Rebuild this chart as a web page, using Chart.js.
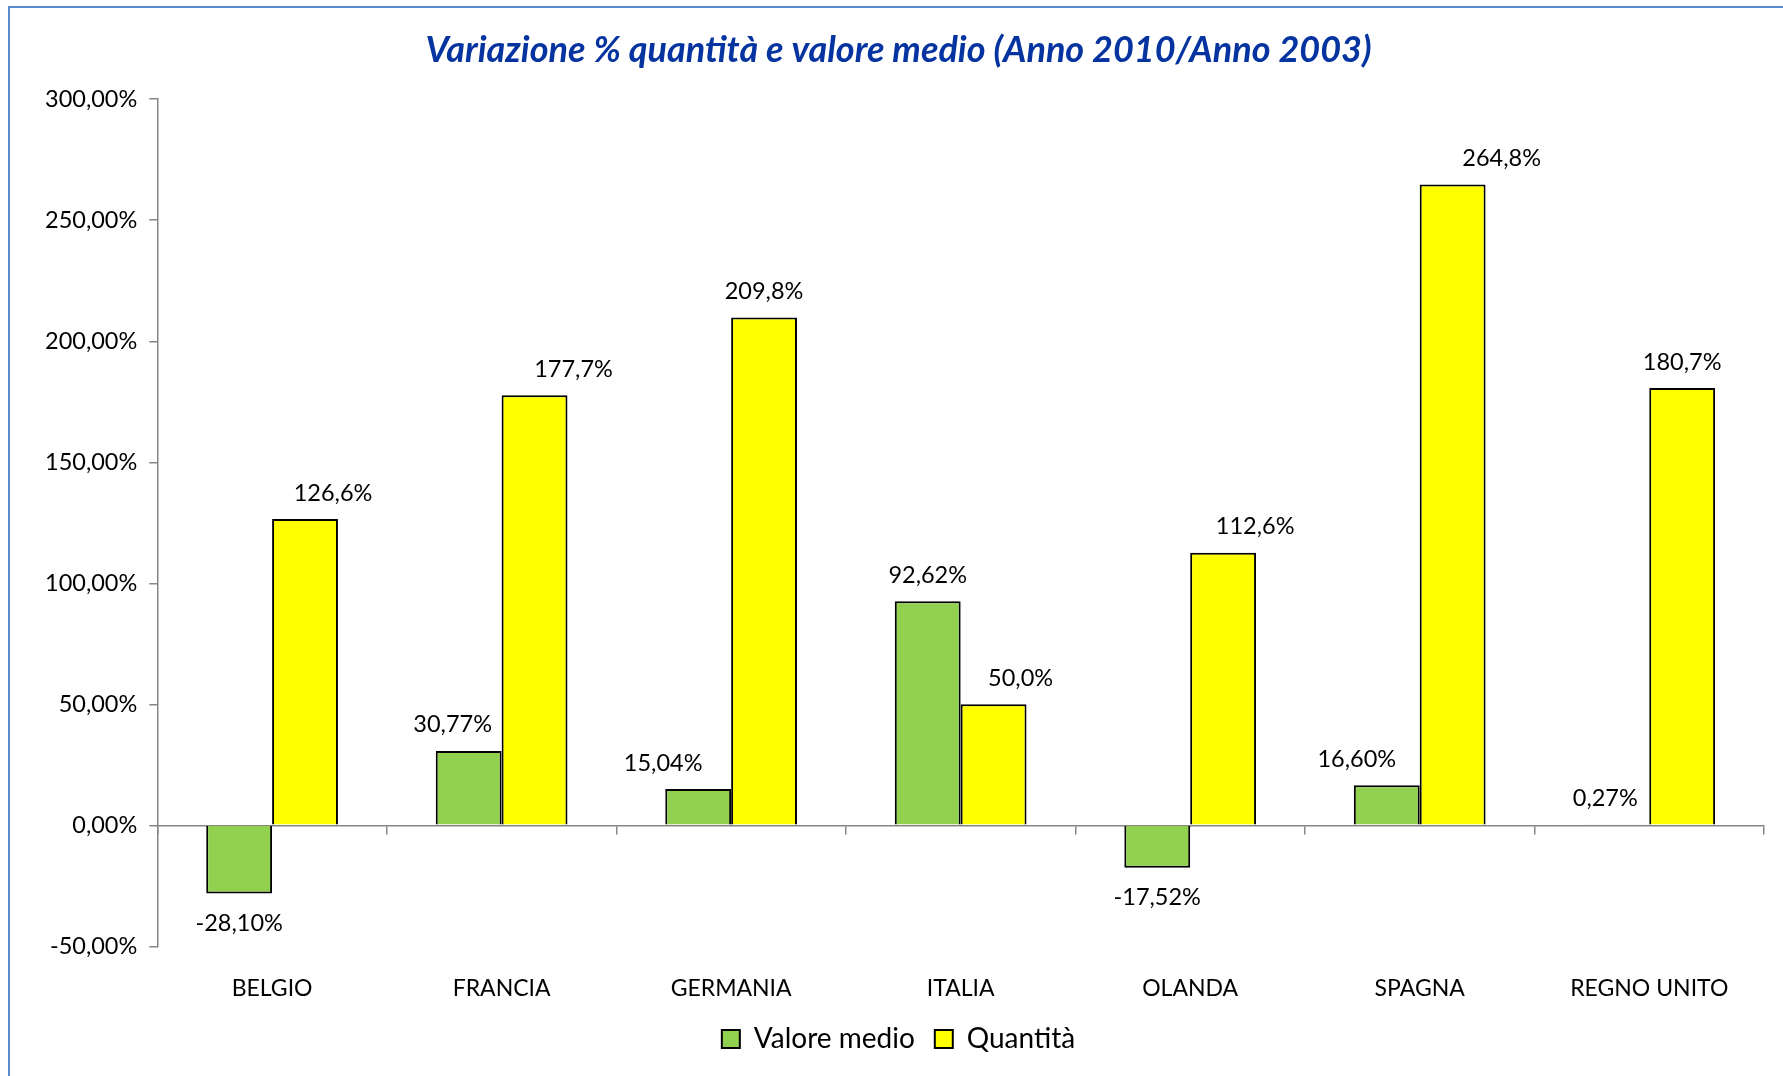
<!DOCTYPE html>
<html>
<head>
<meta charset="utf-8">
<script src="https://cdn.jsdelivr.net/npm/chart.js@4.4.1/dist/chart.umd.min.js"></script>
<style>
    html, body { margin: 0; padding: 0; background: #fff; overflow: hidden; }
    #wrap { position: relative; width: 1783px; height: 1076px; }
    #frame {
        position: absolute; left: 8px; top: 6px; width: 1900px; height: 1200px;
        border-left: 2px solid #5b8cc9; border-top: 2px solid #5b8cc9;
        pointer-events: none;
    }
</style>
</head>
<body>
<div id="wrap">
    <canvas id="chart"></canvas>
    <div id="frame"></div>
</div>
<script>
const categories = ["BELGIO", "FRANCIA", "GERMANIA", "ITALIA", "OLANDA", "SPAGNA", "REGNO UNITO"];
const valoreMedio = [-28.10, 30.77, 15.04, 92.62, -17.52, 16.60, 0.27];
const quantita = [126.6, 177.7, 209.8, 50.0, 112.6, 264.8, 180.7];
const yTicks = [-50, 0, 50, 100, 150, 200, 250, 300];

// label nudges (px), the labels were moved by hand in the original
const nudgeGreen = [0, -16, -35, 0, 0, -30, -11];
const nudgeYellow = [28, 39, 0, 27, 32, 49, 0];

const FONT = "Lato, 'Noto Sans', sans-serif";

function itNum(v, dec) {
    return v.toFixed(dec).replace(".", ",") + "%";
}

const valueLabels = {
    id: "valueLabels",
    afterDatasetsDraw(chart) {
        const ctx = chart.ctx;
        ctx.save();
        ctx.font = "23.5px " + FONT;
        ctx.fillStyle = "#000";
        ctx.textAlign = "center";
        ctx.textBaseline = "middle";
        chart.data.datasets.forEach((ds, di) => {
            const meta = chart.getDatasetMeta(di);
            const nudge = di === 0 ? nudgeGreen : nudgeYellow;
            const dec = di === 0 ? 2 : 1;
            meta.data.forEach((bar, i) => {
                const v = ds.data[i];
                const y = v >= 0 ? bar.y - 26 : bar.y + 30;
                ctx.fillText(itNum(v, dec), bar.x + nudge[i], y);
            });
        });
        ctx.restore();
    }
};

const ctx = document.getElementById("chart").getContext("2d");
new Chart(ctx, {
    type: "bar",
    data: {
        labels: categories,
        datasets: [
            {
                label: "Valore medio",
                data: valoreMedio,
                backgroundColor: "#92d050",
                borderColor: "#000",
                borderWidth: 2,
                categoryPercentage: 0.574,
                barPercentage: 1.0,
            },
            {
                label: "Quantità",
                data: quantita,
                backgroundColor: "#ffff00",
                borderColor: "#000",
                borderWidth: 2,
                categoryPercentage: 0.574,
                barPercentage: 1.0,
            },
        ],
    },
    options: {
        responsive: true,
        maintainAspectRatio: false,
        animation: false,
        layout: { padding: { left: 33, right: 19, top: 0, bottom: 13 } },
        plugins: {
            title: {
                display: true,
                text: "Variazione % quantità e valore medio (Anno 2010/Anno 2003)",
                color: "#0534a0",
                font: { family: FONT, size: 36, style: "italic", weight: "bold" },
                padding: { top: 29, bottom: 27 },
            },
            legend: {
                position: "bottom",
                labels: {
                    color: "#000",
                    font: { family: FONT, size: 28 },
                    boxWidth: 18,
                    boxHeight: 18,
                    padding: 20,
                },
            },
            tooltip: { enabled: false },
        },
        scales: {
            x: {
                type: "category",
                position: { y: 0 },
                offset: true,
                grid: {
                    offset: true,
                    drawOnChartArea: false,
                    drawTicks: true,
                    tickLength: 8,
                    color: "#868686",
                    lineWidth: 1.5,
                },
                border: { color: "#868686", width: 1.5 },
                ticks: { display: false },
            },
            x2: {
                type: "category",
                position: "bottom",
                offset: true,
                grid: { display: false },
                border: { display: false },
                ticks: {
                    color: "#000",
                    font: { family: FONT, size: 23 },
                    padding: 20,
                    maxRotation: 0,
                },
                afterFit(axis) {
                    axis.height -= 17;
                },
            },
            y: {
                min: -50,
                max: 300,
                afterBuildTicks(axis) {
                    axis.ticks = yTicks.map((v) => ({ value: v }));
                },
                grid: {
                    drawOnChartArea: false,
                    tickLength: 8,
                    color: "#868686",
                    lineWidth: 1.5,
                },
                border: { color: "#868686", width: 1.5 },
                ticks: {
                    color: "#000",
                    font: { family: FONT, size: 23.5 },
                    padding: 12,
                    callback: (v) => v.toFixed(2).replace(".", ",") + "%",
                },
            },
        },
    },
    plugins: [valueLabels],
});
</script>
</body>
</html>
